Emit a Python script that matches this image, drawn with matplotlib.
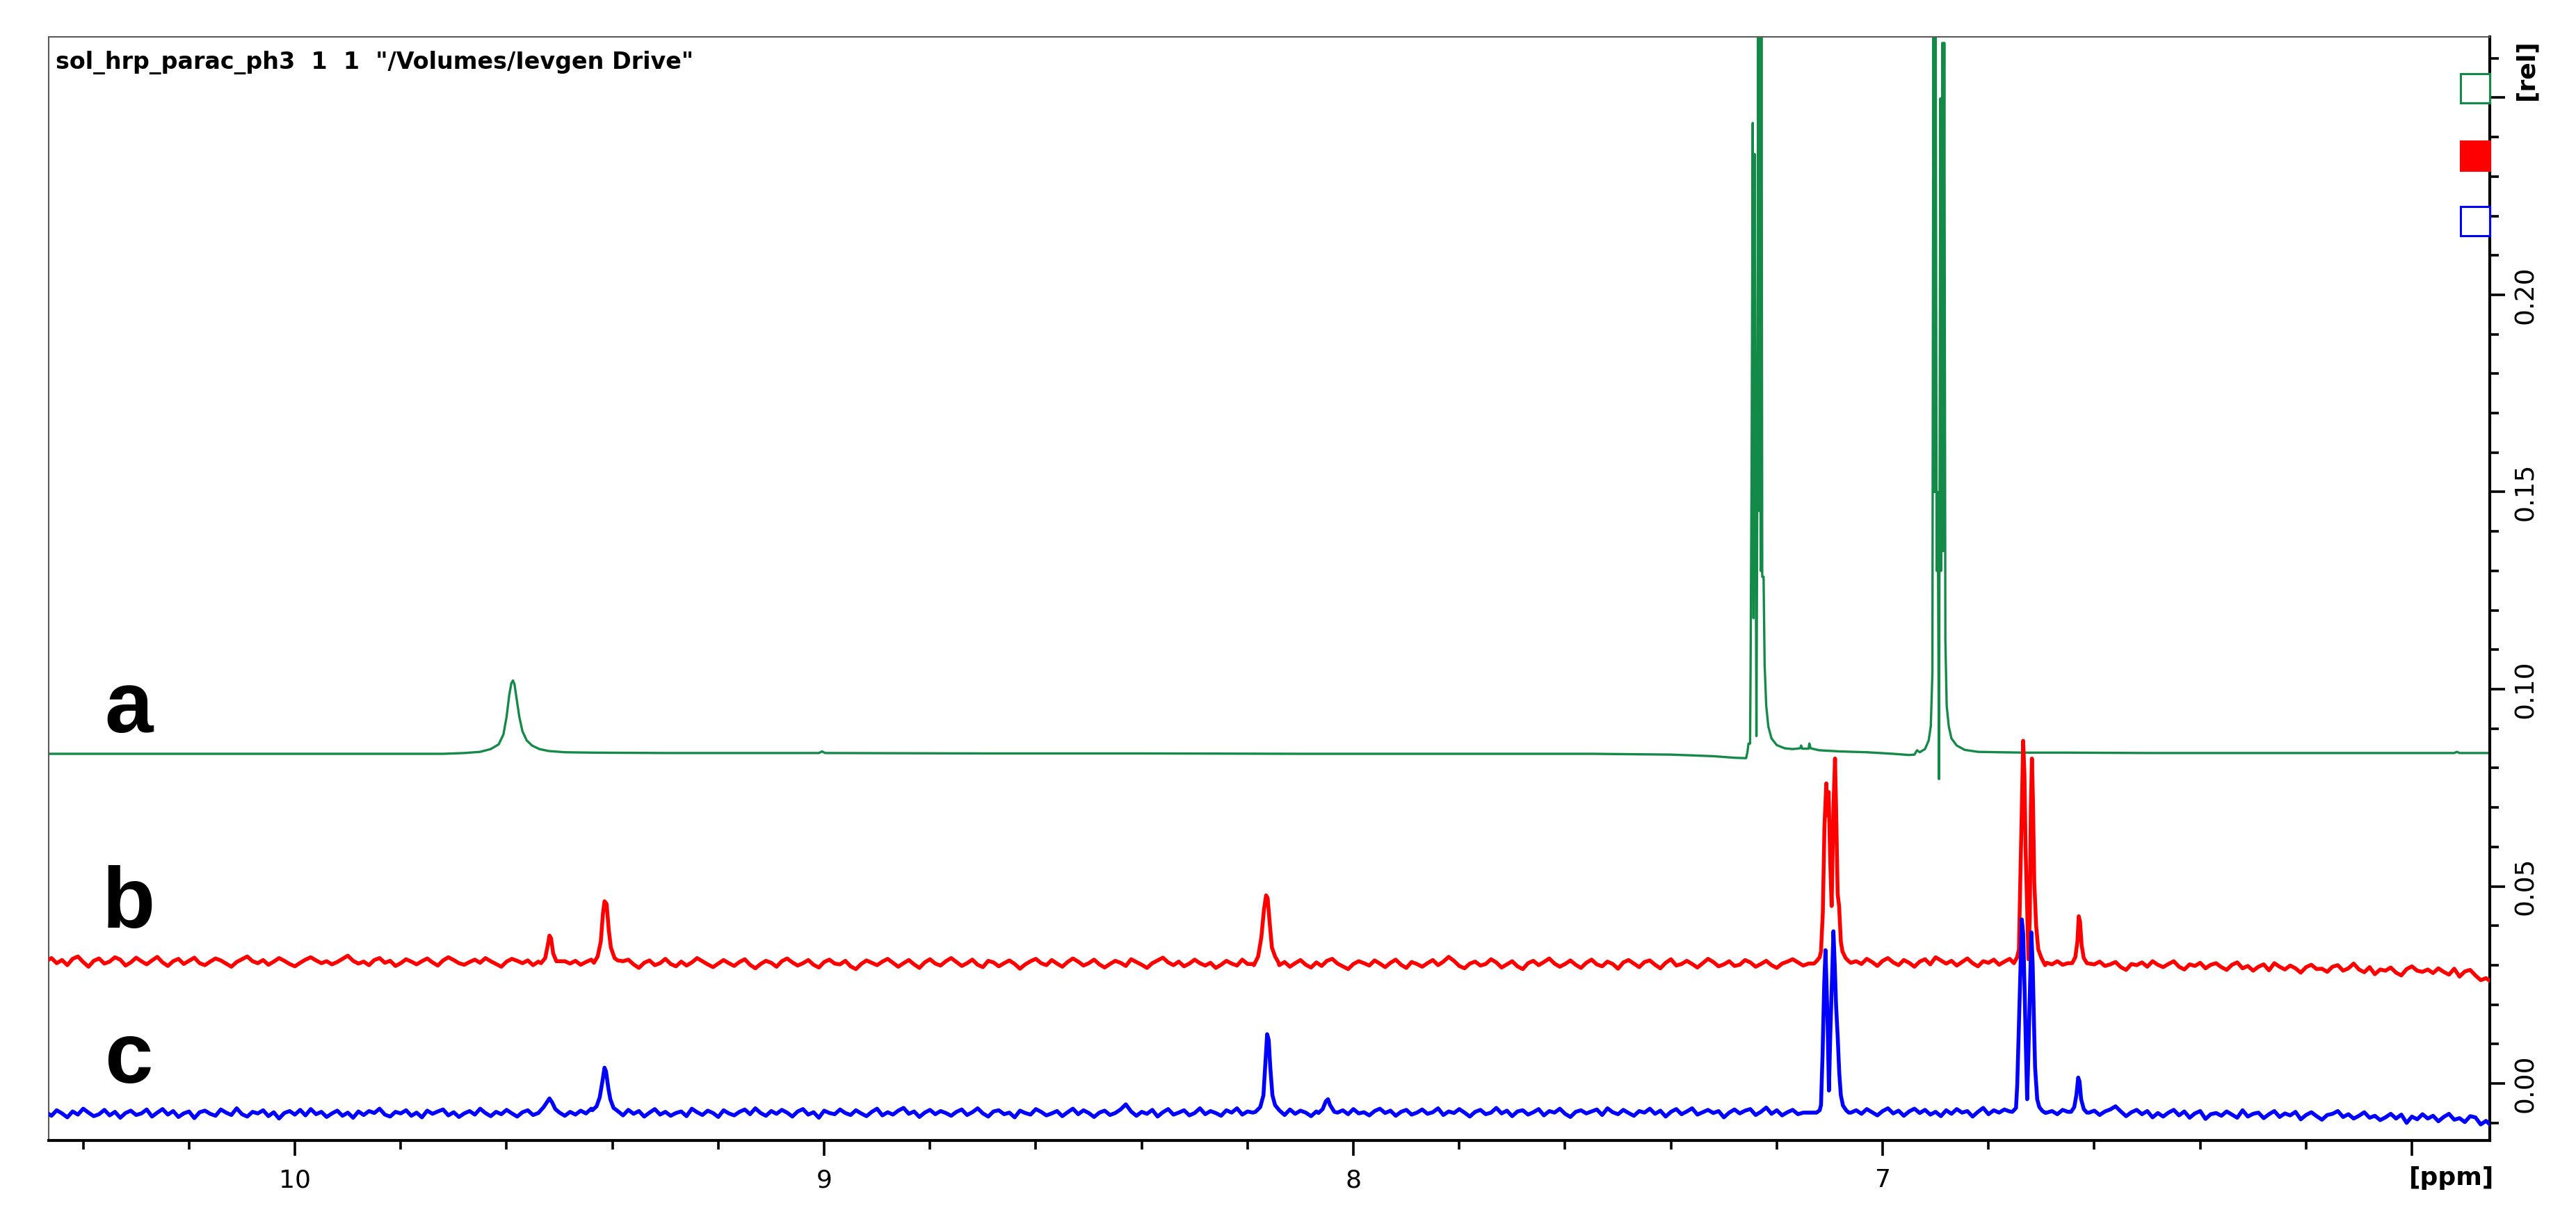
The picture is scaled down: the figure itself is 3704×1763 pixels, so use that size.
import numpy as np
import matplotlib
matplotlib.use("Agg")
import matplotlib.pyplot as plt
from matplotlib.patches import Rectangle
from matplotlib.ticker import FixedLocator, MultipleLocator
import matplotlib.transforms as mtransforms

# sampling of the noisy traces b and c (ppm, every 0.01)
ppm_grid = np.round(10.47 - 0.01 * np.arange(470), 3)

# trace a (green)
green_ppm = [10.47, 10.20, 9.90, 9.72, 9.68, 9.65, 9.63, 9.615, 9.606, 9.600, 9.595, 9.591,
             9.588, 9.585, 9.581, 9.576, 9.570, 9.562, 9.552, 9.538, 9.520, 9.490, 9.440,
             9.30, 9.10, 9.010, 9.004, 8.998, 8.70, 8.40, 8.10, 7.80, 7.55, 7.40, 7.32,
             7.28, 7.258, 7.2555, 7.2535, 7.2505, 7.2495, 7.2475, 7.2455, 7.2440, 7.2420,
             7.2400, 7.2385, 7.2370, 7.2350, 7.2335, 7.2320, 7.2305, 7.2290, 7.2275, 7.2250,
             7.2230, 7.2200, 7.2160, 7.2100, 7.2000, 7.1850, 7.1700, 7.1560, 7.1540, 7.1520,
             7.1400, 7.1385, 7.1360, 7.1200, 7.0800, 7.0300, 6.9800, 6.9500, 6.9400, 6.9350,
             6.9300, 6.9200, 6.9130, 6.9090, 6.9060, 6.9040, 6.9020, 6.9000, 6.8980, 6.8960,
             6.8935, 6.8910, 6.8895, 6.8870, 6.8855, 6.8835, 6.8815, 6.8790, 6.8750, 6.8700,
             6.8600, 6.8450, 6.8200, 6.7800, 6.7300, 6.6500, 6.5000, 6.2000, 5.9200, 5.9150,
             5.9100, 5.8000]
green_val = [0.0836, 0.0836, 0.0836, 0.0836, 0.0838, 0.0841, 0.0848, 0.0860, 0.0885, 0.0930,
             0.0985, 0.1015, 0.1022, 0.1012, 0.0975, 0.0930, 0.0893, 0.0870, 0.0857, 0.0848,
             0.0843, 0.0840, 0.0839, 0.0838, 0.0838, 0.0838, 0.0842, 0.0838, 0.0837, 0.0837,
             0.0836, 0.0836, 0.0836, 0.0834, 0.0830, 0.0826, 0.0825, 0.0840, 0.0862, 0.0862,
             0.1061, 0.1593, 0.2436, 0.1180, 0.2357, 0.1452, 0.0881, 0.1452, 0.2900, 0.1452,
             0.2900, 0.1300, 0.2900, 0.1285, 0.1285, 0.1061, 0.0958, 0.0905, 0.0875, 0.0858,
             0.0850, 0.0848, 0.0850, 0.0857, 0.0849, 0.0849, 0.0862, 0.0850, 0.0845, 0.0842,
             0.0840, 0.0836, 0.0833, 0.0834, 0.0845, 0.0840, 0.0848, 0.0870, 0.0907, 0.1042,
             0.2900, 0.1500, 0.2900, 0.1300, 0.1500, 0.0772, 0.2498, 0.1300, 0.2639, 0.1350,
             0.2639, 0.1125, 0.0958, 0.0905, 0.0875, 0.0857, 0.0846, 0.0841, 0.0840, 0.0839,
             0.0839, 0.0838, 0.0838, 0.0838, 0.0841, 0.0838, 0.0838]

# trace b (red): baseline level per 0.1 ppm band and point jitter, both in 1e-4 rel
red_level = [310, 310, 310, 310, 310, 310, 310, 310, 310, 310, 308,
             305, 305, 305, 305, 305, 305, 305, 305, 305, 305, 305,
             303, 303, 303, 303, 303, 303, 303, 303, 303, 303, 303,
             304, 306, 306, 306, 306, 304,
             300, 298, 296, 292, 290, 286, 282, 262]
red_jitter = [
    0, 8, -5, 3, -10, 6, 12, -2, -14, 1,
    7, -6, -1, 10, 4, -11, -3, 9, 0, -8,
    2, 11, -3, -12, 0, 6, -7, 1, 9, -5,
    -10, -1, 7, 2, -6, -14, -2, 5, 12, 0,
    -5, 3, -9, -1, 8, 1, -7, -13, -4, 4,
    10, 2, -5, 0, -8, -2, 6, 14, 1, -6,
    -1, -10, 3, 8, -4, 1, -12, -5, 5, -1,
    -8, 0, 7, -3, -11, 2, 10, 3, -5, -9,
    -2, 4, -4, 8, 0, -7, -14, -1, 6, 1,
    -5, 2, -10, -1, 5, 0, 0, 0, 0, -6,
    3, -7, 0, 6, 0, 0, 0, 0, -4, 2,
    9, -3, -12, 1, 7, -5, 0, 11, -2, -8,
    4, -6, 2, 13, 5, -3, -10, -1, 8, 0,
    -7, 3, 10, -4, -13, -2, 6, 1, -9, 5,
    12, 2, -6, 0, 8, -4, -11, 3, 9, -1,
    -3, 6, -8, -15, -2, 7, 1, -5, 4, 11,
    1, -9, 0, 8, -3, -12, 2, 10, -1, -6,
    5, 13, 3, -7, 0, 9, -4, -10, 6, 2,
    -8, 0, 7, -2, -14, -3, 5, 11, 0, -5,
    8, -1, -9, 3, 12, 4, -6, 0, 9, -3,
    -11, -2, 6, 1, -7, 10, 3, -4, -12, 0,
    7, 14, 2, -5, 4, -8, -1, 9, 0, -6,
    3, -10, -2, 8, 1, -4, 11, 0, 0, 0,
    0, 0, 0, -3, 5, -7, 2, 10, -2, -9,
    4, -5, 8, 13, 1, -6, -13, 0, 7, 2,
    -4, 9, 1, -8, 3, 11, -2, -10, 5, 0,
    -7, 2, 10, -3, 6, 18, 8, -5, -11, 1,
    6, -4, 0, 12, 4, -9, -1, 7, -6, -13,
    2, 8, -3, 5, 14, 1, -7, 0, 9, -2,
    -10, 3, 11, -1, -6, 6, 0, -12, 4, 10,
    1, -8, 5, 9, -2, -11, 3, 12, -4, 0,
    8, 0, -9, 2, 13, 5, -6, -1, 7, -5,
    -2, 10, 4, -7, 0, 8, -3, -10, 1, 6,
    11, 3, -5, 0, 0, 0, 0, 0, 0, 0,
    0, 0, 4, -3, 10, 2, -8, 5, 12, 1,
    -6, 7, 0, -10, 3, 9, -4, 14, 6, -2,
    5, -7, 2, 11, -1, -9, 4, 0, 8, -5,
    3, 10, -2, 0, 0, 0, 0, 0, 0, -4,
    6, -3, 1, 9, 0, 0, 0, -2, 5, -6,
    2, 8, -5, -12, 3, 0, 7, -4, 10, 1,
    -3, 5, 12, -2, -9, 4, 0, 8, -6, 3,
    9, -1, -8, 5, 11, -4, 2, -10, 0, 6,
    -5, 13, 4, -3, 7, 0, -11, 3, 9, -2,
    1, -7, 6, 10, -4, 2, 14, -1, -8, 5,
    -9, 3, 0, 8, -5, -12, 4, 11, 0, -3,
    7, -2, 10, 1, -6, 9, -11, 2, 6, -8,
    0, 5, -4, 3, 0, -5, 2, -3, 0, 0]
red_peaks = [
    [(9.535, 0.0305), (9.527, 0.0318), (9.522, 0.0352), (9.519, 0.0375), (9.516, 0.0368),
     (9.512, 0.0330), (9.506, 0.0310)],
    [(9.435, 0.0306), (9.428, 0.0322), (9.422, 0.0360), (9.418, 0.0430), (9.415, 0.0462),
     (9.411, 0.0455), (9.407, 0.0390), (9.403, 0.0345), (9.396, 0.0318), (9.390, 0.0312)],
    [(8.188, 0.0300), (8.180, 0.0322), (8.174, 0.0370), (8.169, 0.0440), (8.165, 0.0477),
     (8.162, 0.0470), (8.158, 0.0405), (8.154, 0.0345), (8.148, 0.0322), (8.142, 0.0308)],
    [(7.125, 0.0310), (7.119, 0.0320), (7.1165, 0.0335), (7.113, 0.0435), (7.110, 0.0650),
     (7.1065, 0.0761), (7.1045, 0.0680), (7.1020, 0.0739), (7.0990, 0.0560), (7.0964, 0.0450),
     (7.0930, 0.0700), (7.0900, 0.0824), (7.0880, 0.0700), (7.0850, 0.0480), (7.0823, 0.0450),
     (7.0790, 0.0360), (7.0760, 0.0335), (7.0700, 0.0318), (7.0640, 0.0310)],
    [(6.752, 0.0305), (6.746, 0.0320), (6.7425, 0.0340), (6.7400, 0.0509), (6.7370, 0.0700),
     (6.7345, 0.0869), (6.7320, 0.0780), (6.7300, 0.0600), (6.7265, 0.0420), (6.7245, 0.0315),
     (6.7220, 0.0420), (6.7200, 0.0700), (6.7180, 0.0824), (6.7160, 0.0720), (6.7135, 0.0509),
     (6.7100, 0.0400), (6.7060, 0.0340), (6.7000, 0.0318), (6.6930, 0.0300)],
    [(6.642, 0.0305), (6.636, 0.0320), (6.632, 0.0360), (6.6295, 0.0424), (6.627, 0.0410),
     (6.624, 0.0350), (6.620, 0.0318), (6.614, 0.0305)],
]

# trace c (blue), same layout as trace b
blue_level = [-76, -76, -76, -76, -76, -76, -76, -76, -76, -76, -76,
              -75, -75, -75, -75, -75, -75, -75, -75, -75, -75, -75,
              -74, -74, -74, -74, -74, -74, -74, -74, -74, -74, -74,
              -74, -74, -74, -74, -74, -74,
              -76, -78, -80, -80, -83, -86, -88, -98]
blue_jitter = [
    3, -6, 8, 0, -10, 5, -3, 12, 2, -7,
    -2, 9, -5, 4, -11, 1, 7, -4, 0, 10,
    -8, 2, 11, -3, 6, -9, 0, 5, -12, 3,
    7, -1, -6, 10, 2, -4, 13, -2, -8, 4,
    0, 8, -7, 3, -13, 1, 6, -3, 9, -5,
    11, -2, 4, -9, 0, 7, -6, 2, -11, 5,
    -4, 6, 1, 12, -3, -8, 4, 0, 8, -6,
    2, -10, 7, -1, 5, 10, -5, 3, -9, 0,
    6, -3, 12, 1, -7, 4, -2, 9, 0, -8,
    3, 8, -4, 0, 0, 0, 0, 0, -6, 4,
    -3, 7, 0, 12, 0, 0, 0, 0, 0, -5,
    8, -2, 5, -9, 1, 10, -4, 3, -7, 0,
    4, -8, 11, 2, -5, 6, 0, -10, 7, -1,
    -6, 3, 9, -3, 12, 0, -7, 5, -2, 8,
    1, -9, 4, 10, -4, 2, -12, 6, 0, -3,
    9, 0, -5, 7, -1, -8, 3, 11, -6, 2,
    -4, 6, 13, -2, 4, -10, 1, 8, -3, 5,
    0, -7, 3, 9, -5, 2, 12, -1, -9, 4,
    7, -3, 1, -11, 6, 0, -4, 10, 3, -6,
    -1, 5, -8, 2, 11, -3, 7, 0, -10, 1,
    6, -5, 0, 9, 22, 4, -7, 3, -2, 8,
    -9, 2, 10, -4, 1, 7, -6, 0, 12, -3,
    4, -1, -8, 6, 0, 11, -5, 3, 0, 0,
    0, 0, 0, 2, -6, 8, -3, 5, 0, -9,
    3, 12, 0, 0, 0, 6, -4, 9, -2, 1,
    -7, 4, 10, -1, 5, -8, 2, 7, -5, 0,
    8, -3, 1, 11, -6, 3, -1, 9, 0, -10,
    2, 7, -4, 0, 12, -2, 5, -9, 3, 6,
    -5, 1, 9, -7, 4, 0, 10, -3, -11, 2,
    6, -2, 3, 8, -6, 11, 1, -4, 7, -1,
    -8, 4, 0, 10, -3, 5, -10, 2, 9, -4,
    3, 11, -5, 1, 7, -1, 4, -12, 0, 8,
    -2, 5, 9, -6, 2, 13, -3, 6, -7, 1,
    7, -4, 0, 0, 0, 0, 0, 0, 0, 0,
    0, 0, 6, -3, 9, 1, -7, 4, 11, -2,
    5, -8, 3, 10, -1, 7, -5, 2, -9, 6,
    -3, 9, 0, 4, -10, 2, 12, -4, 6, 0,
    8, 3, 0, 0, 0, 0, 0, 0, 0, 4,
    -4, 7, 2, 0, 0, 0, 0, 5, -6, 3,
    10, 18, 5, -7, 3, 9, -2, 6, -10, 1,
    -6, 4, 11, -3, 7, -9, 2, 8, -12, 0,
    5, -2, 9, 1, -7, 12, -4, 3, 6, -8,
    2, 10, -5, 4, -1, 8, -11, 0, 7, -3,
    -9, 3, 6, 13, -2, 5, -6, 1, 10, -4,
    4, -7, 0, 9, -3, 7, -14, 2, -5, 8,
    -1, 6, -8, 3, 11, -4, 0, -10, 5, 2,
    -6, 3, -9, 0, 0, 0, 0, 0, 0, 0]
blue_peaks = [
    [(9.540, -0.0075), (9.530, -0.0060), (9.524, -0.0048), (9.519, -0.0038), (9.514, -0.0048),
     (9.508, -0.0065), (9.500, -0.0074)],
    [(9.438, -0.0068), (9.430, -0.0058), (9.424, -0.0035), (9.419, 0.0005), (9.415, 0.0040),
     (9.412, 0.0030), (9.408, -0.0010), (9.404, -0.0040), (9.398, -0.0062), (9.390, -0.0070)],
    [(8.185, -0.0072), (8.176, -0.0060), (8.170, -0.0030), (8.166, 0.0060), (8.163, 0.0125),
     (8.160, 0.0110), (8.157, 0.0040), (8.153, -0.0030), (8.148, -0.0055), (8.140, -0.0068)],
    [(8.066, -0.0075), (8.058, -0.0065), (8.052, -0.0045), (8.048, -0.0040), (8.044, -0.0055),
     (8.036, -0.0072)],
    [(7.125, -0.0074), (7.119, -0.0068), (7.1165, -0.0055), (7.1135, 0.0075), (7.1105, 0.0250),
     (7.1080, 0.0338), (7.1060, 0.0250), (7.1040, 0.0150), (7.1015, -0.0018), (7.0990, 0.0120),
     (7.0960, 0.0250), (7.0930, 0.0386), (7.0905, 0.0300), (7.0880, 0.0197), (7.0850, 0.0120),
     (7.0820, 0.0027), (7.0790, -0.0030), (7.0750, -0.0056), (7.0690, -0.0068), (7.0640, -0.0074)],
    [(6.755, -0.0072), (6.748, -0.0062), (6.7457, -0.0003), (6.7410, 0.0227), (6.7370, 0.0416),
     (6.7345, 0.0380), (6.7320, 0.0250), (6.7295, 0.0100), (6.7270, -0.0040), (6.7245, 0.0080),
     (6.7215, 0.0250), (6.7190, 0.0383), (6.7165, 0.0300), (6.7140, 0.0150), (6.7120, 0.0041),
     (6.7080, -0.0040), (6.7040, -0.0060), (6.6980, -0.0070), (6.6920, -0.0075)],
    [(6.644, -0.0072), (6.638, -0.0060), (6.634, -0.0030), (6.6305, 0.0015), (6.628, 0.0005),
     (6.625, -0.0040), (6.620, -0.0065), (6.614, -0.0074)],
]

trace_labels = ["a", "b", "c"]
label_ppm = 10.314
label_base = [0.0891, 0.0395, 0.0002]

GREEN = "#138a48"
RED = "#ff0000"
BLUE = "#0000ff"


def build_trace(level, jitter, peaks):
    base = (np.repeat(level, 10) + np.array(jitter)) * 1e-4
    keep = np.ones(len(ppm_grid), dtype=bool)
    xs, ys = [], []
    for pk in peaks:
        px = [p[0] for p in pk]
        keep &= ~((ppm_grid >= min(px)) & (ppm_grid <= max(px)))
        xs += px
        ys += [p[1] for p in pk]
    x = np.concatenate([ppm_grid[keep], xs])
    y = np.concatenate([base[keep], ys])
    order = np.argsort(-x)
    return x[order], y[order]


red_x, red_y = build_trace(red_level, red_jitter, red_peaks)
blue_x, blue_y = build_trace(blue_level, blue_jitter, blue_peaks)

fig = plt.figure(figsize=(37.05, 17.63), dpi=100)
ax = fig.add_axes([70 / 3705, 123 / 1763, 3510 / 3705, 1587 / 1763])

ax.plot(green_ppm, green_val, color=GREEN, lw=2.4, zorder=2)
ax.plot(red_x, red_y, color=RED, lw=4.0, zorder=3)
ax.plot(blue_x, blue_y, color=BLUE, lw=4.0, zorder=4)

ax.set_xlim(10.4652, 5.8529)
ax.set_ylim(-0.01446, 0.26543)

# spines: thin grey on top/left, heavy black on the two scale sides
for side in ["top", "left"]:
    ax.spines[side].set_color("#5a5a5a")
    ax.spines[side].set_linewidth(1.5)
for side in ["right", "bottom"]:
    ax.spines[side].set_color("black")
    ax.spines[side].set_linewidth(3.0)

ax.xaxis.set_major_locator(FixedLocator([10, 9, 8, 7, 6]))
ax.set_xticklabels(["10", "9", "8", "7", ""])
ax.xaxis.set_minor_locator(MultipleLocator(0.2))
ax.tick_params(axis="x", which="major", direction="out", length=15.8, width=2.6,
               pad=13, labelsize=26)
ax.tick_params(axis="x", which="minor", direction="out", length=9.4, width=2.6)

ax.yaxis.tick_right()
ax.yaxis.set_major_locator(FixedLocator([0, 0.05, 0.10, 0.15, 0.20, 0.25]))
ax.set_yticklabels(["0.00", "0.05", "0.10", "0.15", "0.20", ""])
ax.yaxis.set_minor_locator(MultipleLocator(0.01))
ax.tick_params(axis="y", which="major", direction="out", length=15.8, width=2.6,
               pad=9, labelsize=27, labelrotation=90)
ax.tick_params(axis="y", which="minor", direction="out", length=9.4, width=2.6)
for lbl in ax.get_yticklabels():
    lbl.set_va("center")

# unit labels
trans_x = mtransforms.blended_transform_factory(ax.transData, ax.transAxes)
ax.text(6.005, -0.034, "[ppm]", transform=trans_x, ha="left", va="center",
        fontsize=26, fontweight="bold", clip_on=False)
ax.text(1.0148, 0.9704, "[rel]", transform=ax.transAxes, ha="center", va="center",
        rotation=90, fontsize=26, fontweight="bold", clip_on=False)

# dataset title
ax.text(0.00285, 0.9767, 'sol_hrp_parac_ph3  1  1  "/Volumes/Ievgen Drive"',
        transform=ax.transAxes, ha="left", va="center", fontsize=24, fontweight="bold")

# trace letters
for lab, yb in zip(trace_labels, label_base):
    ax.text(label_ppm, yb, lab, ha="center", va="baseline", fontsize=90,
            fontweight="bold", family="Liberation Sans")

# colour boxes for the three spectra
box_w = 42 / 3510
box_h = 42 / 1587
box_y = [0.9401, 0.8790, 0.8198]
box_style = [(GREEN, False), (RED, True), (BLUE, False)]
for yb, (col, filled) in zip(box_y, box_style):
    ax.add_patch(Rectangle((1 - box_w, yb), box_w, box_h, transform=ax.transAxes,
                           facecolor=col if filled else "white", edgecolor=col,
                           lw=2.2, clip_on=False, zorder=5))

fig.savefig("out.png", dpi=100)
